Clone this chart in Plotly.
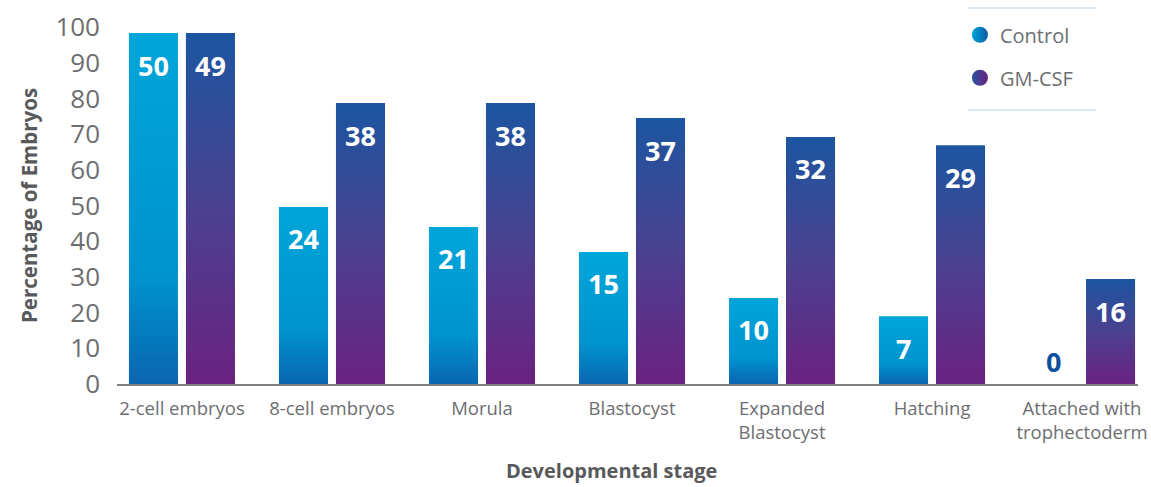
import plotly.graph_objects as go

categories = ["2-cell embryos", "8-cell embryos", "Morula", "Blastocyst",
              "Expanded<br>Blastocyst", "Hatching", "Attached with<br>trophectoderm"]
control_pct = [98.3, 49.6, 44.0, 37.0, 24.1, 19.0, 0.0]
gmcsf_pct = [98.3, 78.7, 78.7, 74.5, 69.2, 66.9, 29.4]
control_n = [50, 24, 21, 15, 10, 7, 0]
gmcsf_n = [49, 38, 38, 37, 32, 29, 16]
y_ticks = [0, 10, 20, 30, 40, 50, 60, 70, 80, 90, 100]

FONT = "Open Sans"
GRAY = "#6d6e71"
BAR_W = 0.327
OFFSET = 0.19

series = [
    ("Control", control_pct, control_n, -OFFSET,
     [[0, "#0a66b0"], [0.3, "#0092cf"], [1, "#00a6d9"]], "#00a6d9", "#0a5aa8"),
    ("GM-CSF", gmcsf_pct, gmcsf_n, OFFSET,
     [[0, "#6a2280"], [0.5, "#4b4190"], [1, "#1c55a0"]], "#2a52a0", "#6a2280"),
]

fig = go.Figure()
annotations = []
for name, vals, counts, off, cscale, c1, c2 in series:
    for i, (v, n) in enumerate(zip(vals, counts)):
        xc = i + off
        if v > 0:
            fig.add_trace(go.Scatter(
                x=[xc - BAR_W / 2, xc + BAR_W / 2, xc + BAR_W / 2, xc - BAR_W / 2, xc - BAR_W / 2],
                y=[0, 0, v, v, 0],
                mode="lines", fill="toself", line=dict(width=0),
                fillgradient=dict(type="vertical", colorscale=cscale),
                showlegend=False, hoverinfo="skip"))
            annotations.append(dict(x=xc, y=v, xref="x", yref="y", text=str(n),
                                    showarrow=False, yshift=-32, yanchor="middle",
                                    font=dict(family=FONT, size=27, color="white", weight="bold")))
        else:
            annotations.append(dict(x=xc, y=0, xref="x", yref="y", text=str(n),
                                    showarrow=False, yshift=23, yanchor="middle",
                                    font=dict(family=FONT, size=27, color="#0a4f9e", weight="bold")))
    fig.add_trace(go.Scatter(
        x=[None], y=[None], mode="markers", name=name, legendgroup=name,
        marker=dict(symbol="circle", size=26, color=c1,
                    gradient=dict(type="horizontal", color=c2))))

annotations.append(dict(x=(611 - 117) / 1021, y=0, xref="paper", yref="paper",
                        text="Developmental stage", showarrow=False, yshift=-86,
                        yanchor="middle", xanchor="center",
                        font=dict(family=FONT, size=20, color="#58595b", weight="bold")))

fig.update_layout(
    width=1151, height=487,
    margin=dict(l=117, r=13, t=27, b=103, autoexpand=False),
    paper_bgcolor="white", plot_bgcolor="white",
    font=dict(family=FONT, color=GRAY),
    annotations=annotations,
    showlegend=True,
    legend=dict(x=0.8256, y=1.033, xanchor="left", yanchor="top",
                font=dict(family=FONT, size=20, color=GRAY),
                tracegroupgap=14, itemsizing="trace",
                bgcolor="rgba(0,0,0,0)"),
    shapes=[
        dict(type="line", xref="paper", yref="paper", x0=0.8335, x1=0.9589,
             y0=1.053, y1=1.053, line=dict(color="#dce6f0", width=2)),
        dict(type="line", xref="paper", yref="paper", x0=0.8335, x1=0.9589,
             y0=0.7675, y1=0.7675, line=dict(color="#dce6f0", width=2)),
    ],
    xaxis=dict(range=[-0.433, 6.373], tickmode="array",
               tickvals=list(range(len(categories))), ticktext=categories,
               showgrid=False, zeroline=False, showline=True, automargin=False,
               linecolor="#7f7f7f", linewidth=2, ticks="",
               ticklabeloverflow="allow",
               tickfont=dict(family=FONT, size=18.5, color=GRAY),
               ticklabelstandoff=7),
    yaxis=dict(range=[0, 100], tickmode="array", tickvals=y_ticks, automargin=False,
               showgrid=False, zeroline=False, showline=False, ticks="",
               tickfont=dict(family=FONT, size=26, color=GRAY),
               ticklabelstandoff=16,
               title=dict(text="Percentage of Embryos", standoff=12,
                          font=dict(family=FONT, size=20.5, color="#58595b", weight="bold"))),
)

fig.write_html("out.html")
